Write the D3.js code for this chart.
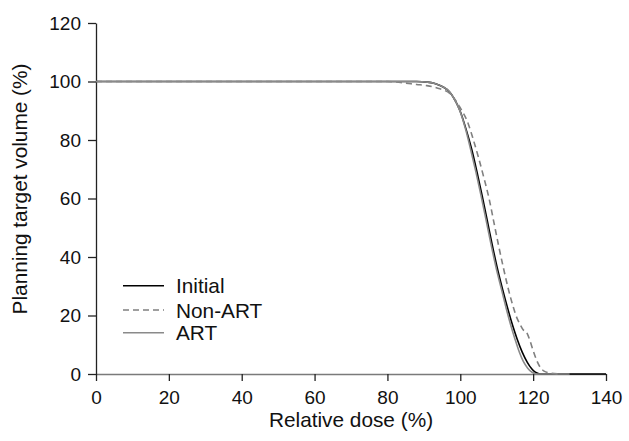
<!DOCTYPE html>
<html>
<head>
<meta charset="utf-8">
<script src="https://cdn.jsdelivr.net/npm/d3@7"></script>
<style>
  html, body { margin: 0; padding: 0; background: #fff; }
  svg { display: block; font-family: "Liberation Sans", Arial, sans-serif; }
</style>
</head>
<body>
<svg id="chart" width="629" height="441"></svg>
<script>
// Relative dose (%) and planning target volume (%)
const initialDose = [0, 80, 88, 91, 93, 95.3, 97, 98.1, 99.9, 101.7, 103.1, 104.6, 106, 107.4, 108.8, 110.2, 111.6, 113, 114.4, 115.6, 117, 118.4, 119.6, 120.6, 121.6, 122.5, 140];
const initialVol  = [100, 100, 100, 99.8, 99.3, 98.1, 96.5, 94.6, 90.1, 83.2, 77, 69, 61, 52.5, 44, 36, 29, 22.5, 16.5, 12, 7.5, 4, 1.8, 0.6, 0.1, 0, 0];

const nonArtDose = [0, 80, 84, 88, 90.8, 94.4, 97.2, 99.9, 102.2, 103.6, 105, 106.5, 107.9, 109.2, 110.5, 111.8, 113.1, 114.4, 115.6, 116.4, 117.2, 118.2, 119.1, 120, 121, 122, 123, 124.5, 127];
const nonArtVol  = [100, 100, 99.6, 99, 98.6, 97.5, 95.8, 91.2, 85.5, 80, 74, 67, 60, 52, 44, 36.5, 29.5, 23.5, 19, 17, 15.2, 14.2, 11.5, 8, 4.6, 2.2, 1, 0.4, 0];

const artDose = [0, 88, 91, 93, 95.3, 97, 98, 99.8, 101.5, 102.8, 104.3, 105.7, 107.1, 108.5, 109.9, 111.3, 112.6, 113.9, 115, 116.2, 117.3, 118.5, 119.7, 120.7, 121.5, 130];
const artVol  = [100, 100, 99.8, 99.3, 98.1, 96.6, 94.8, 90.3, 83.5, 77, 69, 61, 52.5, 44, 36, 29, 22.5, 16.5, 12, 7.5, 4.3, 2, 0.6, 0.1, 0, 0];

const xTicks = [0, 20, 40, 60, 80, 100, 120, 140];
const yTicks = [0, 20, 40, 60, 80, 100, 120];
const seriesNames = ["Initial", "Non-ART", "ART"];

const svg = d3.select("#chart");
const x = d3.scaleLinear().domain([0, 140]).range([96, 606]);
const y = d3.scaleLinear().domain([0, 120]).range([374, 23]);

const styles = {
  "Initial": { color: "#000000", dash: null, width: 1.6 },
  "Non-ART": { color: "#808080", dash: "6,4", width: 1.6 },
  "ART":     { color: "#8a8a8a", dash: null, width: 1.6 }
};

// axes
const xAxis = svg.append("g").attr("transform", "translate(0,374)")
  .call(d3.axisBottom(x).tickValues(xTicks).tickSize(7).tickPadding(10).tickSizeOuter(0));
xAxis.select(".domain").attr("stroke", "#7a7a7a").attr("stroke-width", 1.6);
xAxis.selectAll(".tick line").attr("stroke", "#222").attr("stroke-width", 1.3);
xAxis.selectAll("text").attr("font-size", 19).attr("fill", "#111")
  .attr("font-family", "Liberation Sans, Arial, sans-serif");

const yAxis = svg.append("g").attr("transform", "translate(96,0)")
  .call(d3.axisLeft(y).tickValues(yTicks).tickSize(8).tickPadding(7).tickSizeOuter(0));
yAxis.select(".domain").attr("stroke", "#222").attr("stroke-width", 1.3);
yAxis.selectAll(".tick line").attr("stroke", "#222").attr("stroke-width", 1.3);
yAxis.selectAll("text").attr("font-size", 19).attr("fill", "#111")
  .attr("font-family", "Liberation Sans, Arial, sans-serif");

// lines
const data = {
  "Initial": initialDose.map((d, i) => [d, initialVol[i]]),
  "Non-ART": nonArtDose.map((d, i) => [d, nonArtVol[i]]),
  "ART": artDose.map((d, i) => [d, artVol[i]])
};
const line = d3.line().x(d => x(d[0])).y(d => y(d[1])).curve(d3.curveMonotoneX);
seriesNames.forEach(name => {
  const s = styles[name];
  svg.append("path")
    .datum(data[name])
    .attr("fill", "none")
    .attr("stroke", s.color)
    .attr("stroke-width", s.width)
    .attr("stroke-dasharray", s.dash)
    .attr("d", line);
});

// axis titles
svg.append("text")
  .attr("x", 351).attr("y", 427)
  .attr("text-anchor", "middle")
  .attr("font-size", 20.8).attr("fill", "#111")
  .text("Relative dose (%)");
svg.append("text")
  .attr("transform", "translate(27,189) rotate(-90)")
  .attr("text-anchor", "middle")
  .attr("font-size", 20.8).attr("fill", "#111")
  .text("Planning target volume (%)");

// legend
const legendY = [285.7, 310, 332.7];
seriesNames.forEach((name, i) => {
  const s = styles[name];
  svg.append("line")
    .attr("x1", 123).attr("x2", 164)
    .attr("y1", legendY[i]).attr("y2", legendY[i])
    .attr("stroke", s.color)
    .attr("stroke-width", s.width)
    .attr("stroke-dasharray", s.dash);
  svg.append("text")
    .attr("x", 176).attr("y", legendY[i] + 7.5)
    .attr("font-size", 20.8).attr("fill", "#111")
    .text(name);
});
</script>
</body>
</html>
